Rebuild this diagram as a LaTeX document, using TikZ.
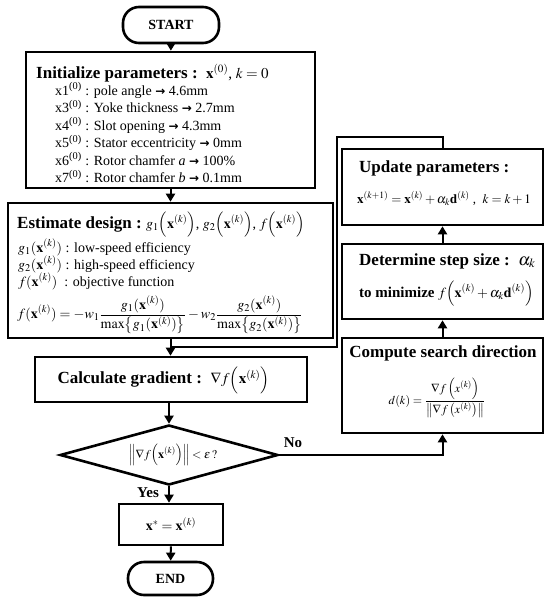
\documentclass[tikz,border=0pt]{standalone}
\usepackage{mathptmx}
\usepackage{fontspec}
\setmainfont{Liberation Serif}
\newfontfamily\arrowfont{DejaVu Sans}
\usetikzlibrary{arrows.meta,shapes.geometric}
\newcommand{\rar}{{\arrowfont\bfseries\fontsize{12}{14}\selectfont →}}
\begin{document}
\begin{tikzpicture}[x=1pt,y=-1pt,
 box/.style={draw,line width=2.6pt,inner sep=0pt},
 term/.style={draw,line width=2.6pt,rounded corners=16pt,inner sep=0pt,font=\fontsize{14}{16}\selectfont\bfseries},
 conn/.style={line width=2pt},
 arr/.style={conn,-{Triangle[length=8pt,width=9pt]}},
 ttl/.style={font=\fontsize{17}{20}\selectfont\bfseries,inner sep=0pt},
 txt/.style={font=\fontsize{14}{17}\selectfont,inner sep=0pt},
 lbl/.style={font=\fontsize{15}{17}\selectfont\bfseries,inner sep=0pt},
]
\useasboundingbox (0,0) rectangle (550,600);

% terminals and boxes
\node[term,minimum width=96pt,minimum height=36pt] (start) at (171,25) {START};
\node[box,minimum width=289pt,minimum height=136pt] (init) at (170.5,120) {};
\node[box,minimum width=325pt,minimum height=135pt] (est) at (170.5,270.5) {};
\node[box,minimum width=272pt,minimum height=45pt] (calc) at (171,379.5) {};
\node[diamond,draw,line width=2.6pt,inner sep=0pt,aspect=3.6,minimum width=218pt,minimum height=60pt] (dec) at (169,455) {};
\node[box,minimum width=104pt,minimum height=41pt,font=\fontsize{14}{16}\selectfont] (xs) at (171,524.5) {$\mathbf{x}^{*} = \mathbf{x}^{(k)}$};
\node[term,minimum width=85pt,minimum height=33pt] (end) at (170.5,578.5) {END};

\node[box,minimum width=201pt,minimum height=76pt] (upd) at (442.5,187) {};
\node[box,minimum width=201pt,minimum height=75pt] (det) at (442.5,281.5) {};
\node[box,minimum width=201pt,minimum height=95pt] (comp) at (442.5,385.5) {};

% Initialize text
\node[ttl,anchor=base west] (initT) at (36,78) {Initialize parameters :\ \ {\mdseries\fontsize{15}{18}\selectfont$\mathbf{x}^{(0)}$, $k=0$}};
\node[txt,anchor=base west] (i1) at (55,95) {x1\textsuperscript{(0)} : pole angle \rar{} 4.6mm};
\node[txt,anchor=base west] (i2) at (55,112.5) {x3\textsuperscript{(0)} : Yoke thickness \rar{} 2.7mm};
\node[txt,anchor=base west] (i3) at (55,130) {x4\textsuperscript{(0)} : Slot opening \rar{} 4.3mm};
\node[txt,anchor=base west] (i4) at (55,147.5) {x5\textsuperscript{(0)} : Stator eccentricity \rar{} 0mm};
\node[txt,anchor=base west] (i5) at (55,165) {x6\textsuperscript{(0)} : Rotor chamfer \textit{a} \rar{} 100\%};
\node[txt,anchor=base west] (i6) at (55,182.5) {x7\textsuperscript{(0)} : Rotor chamfer \textit{b} \rar{} 0.1mm};

% Estimate text
\node[ttl,anchor=base west] (estT) at (17,228) {Estimate design :\ {\mdseries\fontsize{14}{17}\selectfont$g_1\Bigl(\mathbf{x}^{(k)}\Bigr)$, $g_2\Bigl(\mathbf{x}^{(k)}\Bigr)$, $f\Bigl(\mathbf{x}^{(k)}\Bigr)$}};
\node[txt,anchor=base west] (e1) at (18,252) {$g_1(\mathbf{x}^{(k)})$ : low-speed efficiency};
\node[txt,anchor=base west] (e2) at (18,269) {$g_2(\mathbf{x}^{(k)})$ : high-speed efficiency};
\node[txt,anchor=base west] (e3) at (18,286) {$f(\mathbf{x}^{(k)})$\ \ : objective function};
\node[txt,font=\fontsize{14}{16}\selectfont] (e4) at (160,315) {$\displaystyle f(\mathbf{x}^{(k)}) = -w_1\frac{g_1(\mathbf{x}^{(k)})}{\max\bigl\{g_1(\mathbf{x}^{(k)})\bigr\}} - w_2\frac{g_2(\mathbf{x}^{(k)})}{\max\bigl\{g_2(\mathbf{x}^{(k)})\bigr\}}$};

% Calculate gradient
\node[ttl] (calcT) at (163.5,380) {Calculate gradient :\ \ {\mdseries\fontsize{15}{18}\selectfont$\nabla f\Bigl(\mathbf{x}^{(k)}\Bigr)$}};

% decision text
\node[txt,font=\fontsize{12}{14}\selectfont] (decT) at (173,455) {$\Bigl\|\nabla f\Bigl(\mathbf{x}^{(k)}\Bigr)\Bigr\| < \varepsilon\,?$};

% right column text
\node[ttl,anchor=base west] (updT) at (359,172) {Update parameters :};
\node[txt,anchor=base,font=\fontsize{13}{15}\selectfont] (updF) at (444,203) {$\mathbf{x}^{(k+1)} = \mathbf{x}^{(k)} + \alpha_k\mathbf{d}^{(k)}$\ ,\ \ $k=k+1$};
\node[ttl,anchor=base west] (detT) at (359,265) {Determine step size :\ \ {\mdseries$\alpha_k$}};
\node[ttl,anchor=base west,font=\fontsize{15}{18}\selectfont\bfseries] (detF) at (359,297) {to minimize {\mdseries\fontsize{14}{16}\selectfont$f\Bigl(\mathbf{x}^{(k)}+\alpha_k\mathbf{d}^{(k)}\Bigr)$}};
\node[ttl,anchor=base] (compT) at (443,357) {Compute search direction};
\node[txt,font=\fontsize{12}{14}\selectfont] (compF) at (437,398) {$\displaystyle d(k) = \frac{\nabla f\left(x^{(k)}\right)}{\left\|\nabla f\left(x^{(k)}\right)\right\|}$};

% labels
\node[lbl] (no) at (293,443) {No};
\node[lbl] (yes) at (148,493) {Yes};

% connectors
\coordinate (lp1) at (337,137);
\coordinate (lp2) at (337,347);
\coordinate (jn) at (170.5,347);
\draw[arr] (start) -- (init);
\draw[arr] (init) -- (est);
\draw[arr] (est.south) -- (est.south |- calc.north);
\draw[conn] (upd.north) |- (lp1) -- (lp2) -- (jn);
\draw[arr] (calc.south -| dec.north) -- (dec.north);
\draw[arr] (dec.south) -- (dec.south |- xs.north);
\draw[arr] (xs) -- (end);
\draw[arr] (dec.east) -| (comp.south);
\draw[arr] (comp) -- (det);
\draw[arr] (det) -- (upd);
\end{tikzpicture}
\end{document}
